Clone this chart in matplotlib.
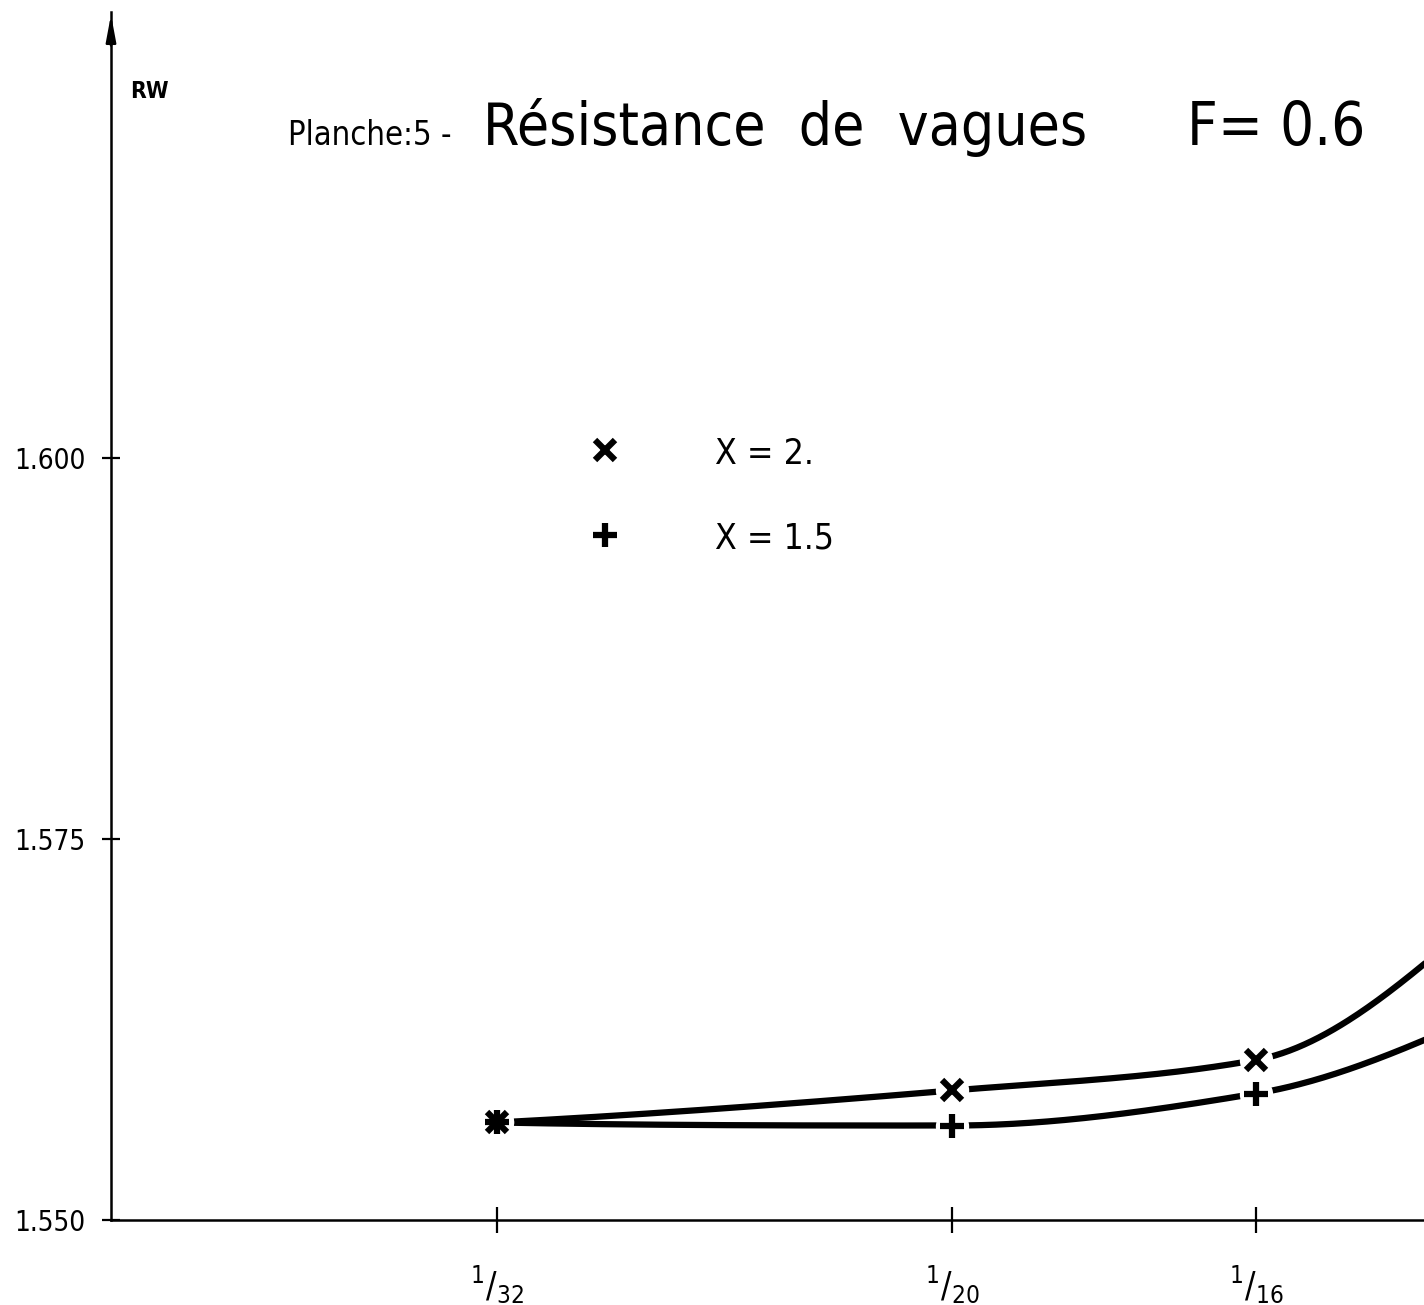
import numpy as np
import matplotlib
matplotlib.use("Agg")
import matplotlib.pyplot as plt

plt.rcParams['font.family'] = ['DejaVu Sans']
plt.rcParams['font.stretch'] = 'condensed'
plt.rcParams['mathtext.fontset'] = 'dejavusans'

x_pas = [1/32, 1/20, 1/16, 1/14]
rw_x2 = [1.5564, 1.5585, 1.5605, 1.5695]
rw_x15 = [1.5564, 1.5562, 1.5583, 1.5632]
x_ticks = [1/32, 1/20, 1/16]
x_tick_labels = [r'$^{1}/_{32}$', r'$^{1}/_{20}$', r'$^{1}/_{16}$']
y_ticks = [1.550, 1.575, 1.600]
y_tick_labels = ['1.550', '1.575', '1.600']
n_marques = 3  # points marques (le dernier est hors cadre)


def pentes(xs, ys):
    # pentes monotones (Fritsch-Carlson)
    h = np.diff(xs)
    dl = np.diff(ys) / h
    n = len(xs)
    d = np.zeros(n)
    for k in range(1, n - 1):
        if dl[k - 1] * dl[k] > 0:
            w1 = 2 * h[k] + h[k - 1]
            w2 = h[k] + 2 * h[k - 1]
            d[k] = (w1 + w2) / (w1 / dl[k - 1] + w2 / dl[k])
    for i, (a, b, ha, hb) in enumerate([(dl[0], dl[1], h[0], h[1]),
                                        (dl[-1], dl[-2], h[-1], h[-2])]):
        v = ((2 * ha + hb) * a - ha * b) / (ha + hb)
        if v * a <= 0:
            v = 0.0
        elif a * b <= 0 and abs(v) > 3 * abs(a):
            v = 3 * a
        d[0 if i == 0 else -1] = v
    return d


def courbe(x, xs, ys):
    xs = np.asarray(xs)
    ys = np.asarray(ys)
    d = pentes(xs, ys)
    k = min(max(np.searchsorted(xs, x) - 1, 0), len(xs) - 2)
    h = xs[k + 1] - xs[k]
    t = (x - xs[k]) / h
    return ((2*t**3 - 3*t**2 + 1) * ys[k] + (t**3 - 2*t**2 + t) * h * d[k]
            + (-2*t**3 + 3*t**2) * ys[k + 1] + (t**3 - t**2) * h * d[k + 1])


W, H = 1424, 1305
fig = plt.figure(figsize=(W / 100, H / 100), dpi=100)
ax = fig.add_axes([111 / W, (H - 1220) / H, (W - 111) / W, (1220 - 12) / H])

ax.set_xlim(0.015365, 0.069414)
ax.set_ylim(1.550, 1.62927)

xx = np.linspace(x_pas[0], x_pas[-1], 400)
for ys in [rw_x2, rw_x15]:
    yy = [courbe(v, x_pas, ys) for v in xx]
    ax.plot(xx, yy, color='black', lw=4.5, solid_capstyle='round', zorder=2)
    ax.plot(x_pas[:n_marques], ys[:n_marques], 'o', color='white', ms=24,
            mew=0, zorder=3)
for ys, mk, ms in [(rw_x2, 'x', 15), (rw_x15, '+', 17)]:
    ax.plot(x_pas[:n_marques], ys[:n_marques], mk, color='black', ms=ms,
            mew=4.5, zorder=4)

for s in ['top', 'right']:
    ax.spines[s].set_visible(False)
ax.spines['left'].set_linewidth(1.8)
ax.spines['bottom'].set_linewidth(1.8)
ax.annotate('', xy=(0, 1.0), xytext=(0, 0.97), xycoords='axes fraction',
            arrowprops=dict(arrowstyle='-|>,head_length=1.6,head_width=0.3',
                            color='black', lw=1.8))

ax.set_xticks(x_ticks)
ax.set_xticklabels(x_tick_labels, fontsize=25)
ax.set_yticks(y_ticks)
ax.set_yticklabels(y_tick_labels, fontsize=20)
ax.tick_params(axis='x', direction='inout', length=19, width=1.6, pad=22)
ax.tick_params(axis='y', direction='inout', length=13, width=1.6, pad=12)

fig.text(130 / W, 1 - 98 / H, 'RW', fontsize=16.5, fontweight='bold',
         va='baseline')
fig.text(288 / W, 1 - 145 / H, 'Planche:5 -', fontsize=23.5, va='baseline')
fig.text(483 / W, 1 - 145 / H, 'Résistance  de  vagues', fontsize=42,
         va='baseline')
fig.text(1187 / W, 1 - 145 / H, 'F= 0.6', fontsize=43, va='baseline')

# legende
for yp, mk, ms, lab in [(450, 'x', 15, 'X = 2.'), (535, '+', 17, 'X = 1.5')]:
    fig.lines.append(plt.Line2D([605 / W], [1 - yp / H], marker=mk,
                                color='black', ms=ms, mew=4.5,
                                transform=fig.transFigure))
    fig.text(715 / W, 1 - (yp + 14) / H, lab, fontsize=25.5, va='baseline')

fig.savefig('out.png', dpi=100, facecolor='white')
